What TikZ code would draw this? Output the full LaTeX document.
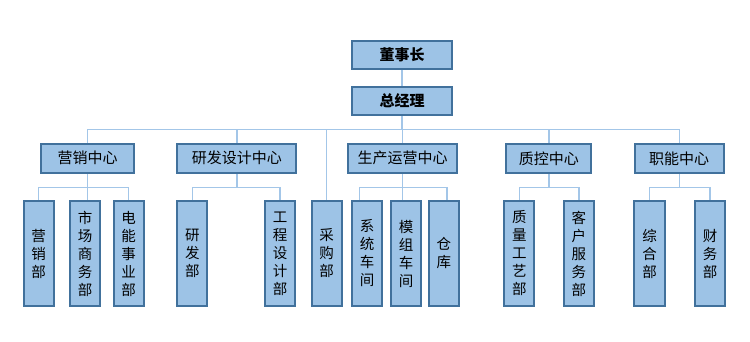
\documentclass[tikz,border=0pt]{standalone}
\usepackage{fontspec}
\setmainfont{Noto Sans CJK SC}
\usetikzlibrary{calc}
\definecolor{boxfill}{HTML}{9DC3E6}
\definecolor{boxline}{HTML}{41719C}
\definecolor{connline}{HTML}{A3C6E8}
\tikzset{
  box/.style={draw=boxline, fill=boxfill, line width=1.3pt, inner sep=0pt, text=black},
  topbox/.style={box, minimum width=100pt, minimum height=28pt, font=\fontsize{15}{18}\selectfont\bfseries},
  midbox/.style={box, minimum height=28.5pt, font=\fontsize{15}{18}\selectfont},
  leafbox/.style={box, minimum width=29.5pt, minimum height=105pt, align=center, font=\fontsize{14.5}{18}\selectfont},
  conn/.style={draw=connline, line width=1.4pt}
}
\begin{document}
\begin{tikzpicture}[x=1pt,y=-1pt]
\useasboundingbox (0,0) rectangle (750,342);
\coordinate (bus) at (0,129.3);
\coordinate (sbus) at (0,187.3);
% top
\node[topbox] (dsz) at (402,55) {董事长};
\node[topbox] (zjl) at (402,101) {总经理};
% centers
\node[midbox, minimum width=91.6pt] (yx) at (87.5,158.3) {营销中心};
\node[midbox, minimum width=118.3pt] (yf) at (236.8,158.3) {研发设计中心};
\node[midbox, minimum width=108pt] (sc) at (402.7,158.3) {生产运营中心};
\node[midbox, minimum width=84.3pt] (zk) at (548.8,158.3) {质控中心};
\node[midbox, minimum width=88.3pt] (zn) at (679.2,158.3) {职能中心};
% leaves
\node[leafbox] (yxb) at (38.7,253.5) {营\\销\\部};
\node[leafbox] (scsw) at (85,253.5) {市\\场\\商\\务\\部};
\node[leafbox] (dnsy) at (128.7,253.5) {电\\能\\事\\业\\部};
\node[leafbox] (yfb) at (192.3,253.5) {研\\发\\部};
\node[leafbox] (gcsj) at (280,253.5) {工\\程\\设\\计\\部};
\node[leafbox] (cgb) at (326.6,253.5) {采\\购\\部};
\node[leafbox] (xtcj) at (367.2,253.5) {系\\统\\车\\间};
\node[leafbox] (mzcj) at (406,253.5) {模\\组\\车\\间};
\node[leafbox] (ck) at (443.8,253.5) {仓\\库};
\node[leafbox] (zlgy) at (519.3,253.5) {质\\量\\工\\艺\\部};
\node[leafbox] (khfw) at (578.8,253.5) {客\\户\\服\\务\\部};
\node[leafbox] (zhb) at (649.5,253.5) {综\\合\\部};
\node[leafbox] (cwb) at (710,253.5) {财\\务\\部};
% top connectors
\draw[conn] (dsz.south) -- (zjl.north);
\draw[conn] (zjl.south) -- (zjl.south |- bus);
\draw[conn] (yx.north) -- (yx.north |- bus) -- (zn.north |- bus) -- (zn.north);
\draw[conn] (yf.north) -- (yf.north |- bus);
\draw[conn] (sc.north) -- (sc.north |- bus);
\draw[conn] (zk.north) -- (zk.north |- bus);
\draw[conn] (cgb.north) -- (cgb.north |- bus);
% 营销中心
\draw[conn] (yx.south) -- (yx.south |- scsw.north);
\draw[conn] (yxb.north) -- (yxb.north |- sbus) -- (dnsy.north |- sbus) -- (dnsy.north);
% 研发设计中心
\draw[conn] (yf.south) -- (yf.south |- sbus);
\draw[conn] (yfb.north) -- (yfb.north |- sbus) -- (gcsj.north |- sbus) -- (gcsj.north);
% 生产运营中心
\coordinate (xtc) at ($(xtcj.north)+(-8,0)$);
\coordinate (ckc) at ($(ck.north)+(3,0)$);
\draw[conn] (sc.south) -- (sc.south |- mzcj.north);
\draw[conn] (xtc) -- (xtc |- sbus) -- (ckc |- sbus) -- (ckc);
% 质控中心
\draw[conn] (zk.south) -- (zk.south |- sbus);
\draw[conn] (zlgy.north) -- (zlgy.north |- sbus) -- (khfw.north |- sbus) -- (khfw.north);
% 职能中心
\draw[conn] (zn.south) -- (zn.south |- sbus);
\draw[conn] (zhb.north) -- (zhb.north |- sbus) -- (cwb.north |- sbus) -- (cwb.north);
% redraw boxes above connectors
\foreach \n in {dsz,zjl,yx,yf,sc,zk,zn,yxb,scsw,dnsy,yfb,gcsj,cgb,xtcj,mzcj,ck,zlgy,khfw,zhb,cwb}{
  \draw[boxline, line width=1.3pt] (\n.north west) rectangle (\n.south east);
}
\end{tikzpicture}
\end{document}
